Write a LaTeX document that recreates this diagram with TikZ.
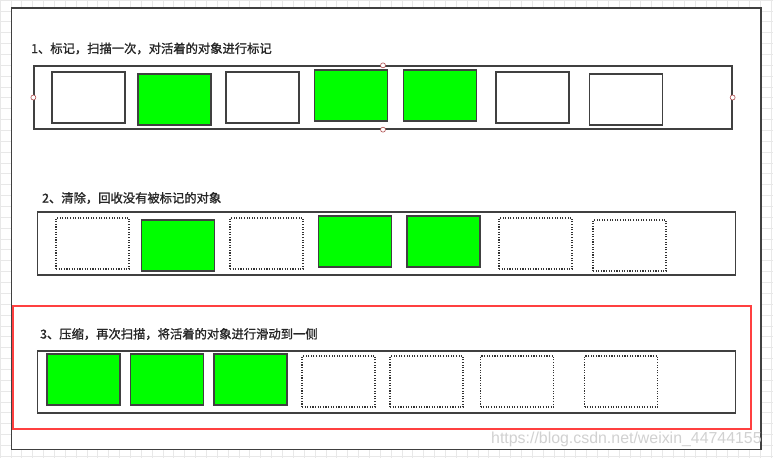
\documentclass[tikz,border=0pt]{standalone}
\usepackage{fontspec}
\newfontfamily\cjk{Noto Sans CJK SC}[FakeBold=1.3]
\newfontfamily\wmfont{Liberation Sans}
\definecolor{lineg}{HTML}{404040}
\definecolor{objgreen}{HTML}{00FF00}
\definecolor{gridc}{HTML}{E8E8E8}
\definecolor{redframe}{HTML}{FF4040}
\definecolor{handlec}{HTML}{B05050}
\definecolor{titlec}{HTML}{262626}
\begin{document}
\begin{tikzpicture}[x=1pt,y=-1pt,
  cont/.style={draw=lineg, line width=1.3pt, fill=white, minimum width=698pt, minimum height=63pt, inner sep=0pt},
  objbox/.style={draw=lineg, line width=1.3pt, minimum width=73pt, minimum height=51pt, inner sep=0pt},
  livebox/.style={objbox, fill=objgreen},
  deadbox/.style={objbox, fill=white},
  freebox/.style={draw=black!80, line width=1.2pt, dash pattern=on 1.1pt off 1.5pt, fill=white, minimum width=73pt, minimum height=51pt, inner sep=0pt},
  handle/.style={circle, draw=handlec, fill=white, line width=0.6pt, minimum size=5pt, inner sep=0pt},
  title/.style={anchor=west, inner sep=0pt, font=\cjk\fontsize{12.3}{14}\selectfont, text=titlec}
]
\useasboundingbox (0,0) rectangle (773,458);
% background grid
\fill[white] (0,0) rectangle (773,458);
\draw[gridc, line width=0.6pt, step=10.86pt] (0,0) grid (773,458);
% outer frame
\draw[lineg, line width=1.5pt, fill=white] (11.5,8) rectangle (761,449.5);

% ---------- row 1 ----------
\node[title] (t1) at (31,48.5) {1、标记，扫描一次，对活着的对象进行标记};
\node[cont] (c1) at (383,97.5) {};
\node[deadbox] (a1) at (88.5,97.5) {};
\node[livebox] (a2) at (174.5,99.5) {};
\node[deadbox] (a3) at (262.5,97.5) {};
\node[livebox] (a4) at (351,95.5) {};
\node[livebox] (a5) at (440,95.5) {};
\node[deadbox] (a6) at (532.5,97.5) {};
\node[deadbox] (a7) at (626,99.5) {};
\node[handle] (h1) at (c1.west) {};
\node[handle] (h2) at (c1.east) {};
\node[handle] (h3) at (c1.north) {};
\node[handle] (h4) at (c1.south) {};

% ---------- row 2 ----------
\node[title] (t2) at (42,198) {2、清除，回收没有被标记的对象};
\node[cont] (c2) at (386.5,243.5) {};
\node[freebox] (b1) at (92.5,243.5) {};
\node[livebox] (b2) at (178,245.5) {};
\node[freebox] (b3) at (266.5,243.5) {};
\node[livebox] (b4) at (355,241.5) {};
\node[livebox] (b5) at (443.5,241.5) {};
\node[freebox] (b6) at (535.5,243.5) {};
\node[freebox] (b7) at (629.5,245.5) {};

% ---------- row 3 ----------
\draw[redframe, line width=1.8pt] (13,306) rectangle (751,429);
\node[title] (t3) at (40,334) {3、压缩，再次扫描，将活着的对象进行滑动到一侧};
\node[cont, minimum height=62pt] (c3) at (386.5,382) {};
\node[livebox] (d1) at (83.5,379.5) {};
\node[livebox] (d2) at (167,379.5) {};
\node[livebox] (d3) at (250.5,379.5) {};
\node[freebox] (d4) at (338.5,381.5) {};
\node[freebox] (d5) at (426.5,381.5) {};
\node[freebox] (d6) at (517,381.5) {};
\node[freebox] (d7) at (621,381.5) {};

% watermark
\node[anchor=west, inner sep=0pt, font=\wmfont\fontsize{15.9}{18}\selectfont, text=black!18] (wm) at (491,439.5) {https://blog.csdn.net/weixin\_44744155};
\end{tikzpicture}
\end{document}
